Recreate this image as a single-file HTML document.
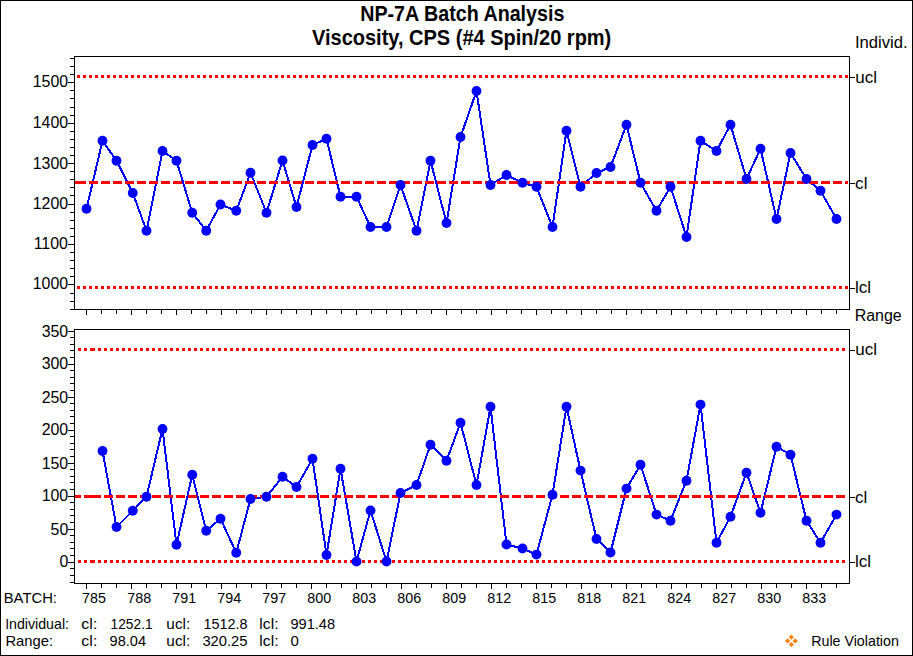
<!DOCTYPE html><html><head><meta charset="utf-8"><style>html,body{margin:0;padding:0;background:#fff;overflow:hidden;}svg{display:block;}text{font-family:"Liberation Sans",sans-serif;fill:#000;white-space:pre;}</style></head><body>
<svg width="913" height="656" viewBox="0 0 913 656">
<rect x="0" y="0" width="913" height="656" fill="#fff"/>
<g shape-rendering="crispEdges" fill="#000">
<rect x="0" y="0" width="913" height="1"/><rect x="0" y="655" width="913" height="1"/><rect x="0" y="0" width="1" height="656"/><rect x="912" y="0" width="1" height="656"/>
<rect x="74" y="56" width="776" height="1"/><rect x="74" y="309" width="776" height="1"/><rect x="74" y="56" width="1" height="254"/><rect x="849" y="56" width="1" height="254"/>
<rect x="74" y="329" width="776" height="1"/><rect x="74" y="583" width="776" height="1"/><rect x="74" y="329" width="1" height="255"/><rect x="849" y="329" width="1" height="255"/>
<rect x="70" y="58" width="4" height="1"/>
<rect x="70" y="66" width="4" height="1"/>
<rect x="70" y="74" width="4" height="1"/>
<rect x="68" y="82" width="6" height="1"/>
<rect x="70" y="90" width="4" height="1"/>
<rect x="70" y="98" width="4" height="1"/>
<rect x="70" y="107" width="4" height="1"/>
<rect x="70" y="115" width="4" height="1"/>
<rect x="68" y="123" width="6" height="1"/>
<rect x="70" y="131" width="4" height="1"/>
<rect x="70" y="139" width="4" height="1"/>
<rect x="70" y="147" width="4" height="1"/>
<rect x="70" y="155" width="4" height="1"/>
<rect x="68" y="163" width="6" height="1"/>
<rect x="70" y="171" width="4" height="1"/>
<rect x="70" y="179" width="4" height="1"/>
<rect x="70" y="187" width="4" height="1"/>
<rect x="70" y="195" width="4" height="1"/>
<rect x="68" y="204" width="6" height="1"/>
<rect x="70" y="212" width="4" height="1"/>
<rect x="70" y="220" width="4" height="1"/>
<rect x="70" y="228" width="4" height="1"/>
<rect x="70" y="236" width="4" height="1"/>
<rect x="68" y="244" width="6" height="1"/>
<rect x="70" y="252" width="4" height="1"/>
<rect x="70" y="260" width="4" height="1"/>
<rect x="70" y="268" width="4" height="1"/>
<rect x="70" y="276" width="4" height="1"/>
<rect x="68" y="284" width="6" height="1"/>
<rect x="70" y="293" width="4" height="1"/>
<rect x="70" y="301" width="4" height="1"/>
<rect x="70" y="309" width="4" height="1"/>
<rect x="68" y="331" width="6" height="1"/>
<rect x="70" y="337" width="4" height="1"/>
<rect x="70" y="344" width="4" height="1"/>
<rect x="70" y="350" width="4" height="1"/>
<rect x="70" y="357" width="4" height="1"/>
<rect x="68" y="364" width="6" height="1"/>
<rect x="70" y="370" width="4" height="1"/>
<rect x="70" y="377" width="4" height="1"/>
<rect x="70" y="383" width="4" height="1"/>
<rect x="70" y="390" width="4" height="1"/>
<rect x="68" y="397" width="6" height="1"/>
<rect x="70" y="403" width="4" height="1"/>
<rect x="70" y="410" width="4" height="1"/>
<rect x="70" y="416" width="4" height="1"/>
<rect x="70" y="423" width="4" height="1"/>
<rect x="68" y="430" width="6" height="1"/>
<rect x="70" y="436" width="4" height="1"/>
<rect x="70" y="443" width="4" height="1"/>
<rect x="70" y="449" width="4" height="1"/>
<rect x="70" y="456" width="4" height="1"/>
<rect x="68" y="463" width="6" height="1"/>
<rect x="70" y="469" width="4" height="1"/>
<rect x="70" y="476" width="4" height="1"/>
<rect x="70" y="482" width="4" height="1"/>
<rect x="70" y="489" width="4" height="1"/>
<rect x="68" y="496" width="6" height="1"/>
<rect x="70" y="502" width="4" height="1"/>
<rect x="70" y="509" width="4" height="1"/>
<rect x="70" y="515" width="4" height="1"/>
<rect x="70" y="522" width="4" height="1"/>
<rect x="68" y="529" width="6" height="1"/>
<rect x="70" y="535" width="4" height="1"/>
<rect x="70" y="542" width="4" height="1"/>
<rect x="70" y="548" width="4" height="1"/>
<rect x="70" y="555" width="4" height="1"/>
<rect x="68" y="562" width="6" height="1"/>
<rect x="70" y="568" width="4" height="1"/>
<rect x="70" y="575" width="4" height="1"/>
<rect x="70" y="582" width="4" height="1"/>
<rect x="86" y="310" width="1" height="5"/>
<rect x="86" y="584" width="1" height="5"/>
<rect x="101" y="310" width="1" height="4"/>
<rect x="101" y="584" width="1" height="4"/>
<rect x="116" y="310" width="1" height="4"/>
<rect x="116" y="584" width="1" height="4"/>
<rect x="131" y="310" width="1" height="5"/>
<rect x="131" y="584" width="1" height="5"/>
<rect x="146" y="310" width="1" height="4"/>
<rect x="146" y="584" width="1" height="4"/>
<rect x="161" y="310" width="1" height="4"/>
<rect x="161" y="584" width="1" height="4"/>
<rect x="176" y="310" width="1" height="5"/>
<rect x="176" y="584" width="1" height="5"/>
<rect x="191" y="310" width="1" height="4"/>
<rect x="191" y="584" width="1" height="4"/>
<rect x="206" y="310" width="1" height="4"/>
<rect x="206" y="584" width="1" height="4"/>
<rect x="221" y="310" width="1" height="5"/>
<rect x="221" y="584" width="1" height="5"/>
<rect x="236" y="310" width="1" height="4"/>
<rect x="236" y="584" width="1" height="4"/>
<rect x="251" y="310" width="1" height="4"/>
<rect x="251" y="584" width="1" height="4"/>
<rect x="266" y="310" width="1" height="5"/>
<rect x="266" y="584" width="1" height="5"/>
<rect x="281" y="310" width="1" height="4"/>
<rect x="281" y="584" width="1" height="4"/>
<rect x="296" y="310" width="1" height="4"/>
<rect x="296" y="584" width="1" height="4"/>
<rect x="311" y="310" width="1" height="5"/>
<rect x="311" y="584" width="1" height="5"/>
<rect x="326" y="310" width="1" height="4"/>
<rect x="326" y="584" width="1" height="4"/>
<rect x="341" y="310" width="1" height="4"/>
<rect x="341" y="584" width="1" height="4"/>
<rect x="356" y="310" width="1" height="5"/>
<rect x="356" y="584" width="1" height="5"/>
<rect x="371" y="310" width="1" height="4"/>
<rect x="371" y="584" width="1" height="4"/>
<rect x="386" y="310" width="1" height="4"/>
<rect x="386" y="584" width="1" height="4"/>
<rect x="401" y="310" width="1" height="5"/>
<rect x="401" y="584" width="1" height="5"/>
<rect x="416" y="310" width="1" height="4"/>
<rect x="416" y="584" width="1" height="4"/>
<rect x="431" y="310" width="1" height="4"/>
<rect x="431" y="584" width="1" height="4"/>
<rect x="446" y="310" width="1" height="5"/>
<rect x="446" y="584" width="1" height="5"/>
<rect x="461" y="310" width="1" height="4"/>
<rect x="461" y="584" width="1" height="4"/>
<rect x="476" y="310" width="1" height="4"/>
<rect x="476" y="584" width="1" height="4"/>
<rect x="491" y="310" width="1" height="5"/>
<rect x="491" y="584" width="1" height="5"/>
<rect x="506" y="310" width="1" height="4"/>
<rect x="506" y="584" width="1" height="4"/>
<rect x="521" y="310" width="1" height="4"/>
<rect x="521" y="584" width="1" height="4"/>
<rect x="536" y="310" width="1" height="5"/>
<rect x="536" y="584" width="1" height="5"/>
<rect x="551" y="310" width="1" height="4"/>
<rect x="551" y="584" width="1" height="4"/>
<rect x="566" y="310" width="1" height="4"/>
<rect x="566" y="584" width="1" height="4"/>
<rect x="581" y="310" width="1" height="5"/>
<rect x="581" y="584" width="1" height="5"/>
<rect x="596" y="310" width="1" height="4"/>
<rect x="596" y="584" width="1" height="4"/>
<rect x="611" y="310" width="1" height="4"/>
<rect x="611" y="584" width="1" height="4"/>
<rect x="626" y="310" width="1" height="5"/>
<rect x="626" y="584" width="1" height="5"/>
<rect x="641" y="310" width="1" height="4"/>
<rect x="641" y="584" width="1" height="4"/>
<rect x="656" y="310" width="1" height="4"/>
<rect x="656" y="584" width="1" height="4"/>
<rect x="671" y="310" width="1" height="5"/>
<rect x="671" y="584" width="1" height="5"/>
<rect x="686" y="310" width="1" height="4"/>
<rect x="686" y="584" width="1" height="4"/>
<rect x="701" y="310" width="1" height="4"/>
<rect x="701" y="584" width="1" height="4"/>
<rect x="716" y="310" width="1" height="5"/>
<rect x="716" y="584" width="1" height="5"/>
<rect x="731" y="310" width="1" height="4"/>
<rect x="731" y="584" width="1" height="4"/>
<rect x="746" y="310" width="1" height="4"/>
<rect x="746" y="584" width="1" height="4"/>
<rect x="761" y="310" width="1" height="5"/>
<rect x="761" y="584" width="1" height="5"/>
<rect x="776" y="310" width="1" height="4"/>
<rect x="776" y="584" width="1" height="4"/>
<rect x="791" y="310" width="1" height="4"/>
<rect x="791" y="584" width="1" height="4"/>
<rect x="806" y="310" width="1" height="5"/>
<rect x="806" y="584" width="1" height="5"/>
<rect x="821" y="310" width="1" height="4"/>
<rect x="821" y="584" width="1" height="4"/>
<rect x="836" y="310" width="1" height="4"/>
<rect x="836" y="584" width="1" height="4"/>
<rect x="850" y="77" width="5" height="1"/>
<rect x="850" y="183" width="5" height="1"/>
<rect x="850" y="288" width="5" height="1"/>
<rect x="850" y="350" width="5" height="1"/>
<rect x="850" y="497" width="5" height="1"/>
<rect x="850" y="562" width="5" height="1"/>
</g>
<polyline points="86.5,208.75 102.5,140.75 116.5,160.75 132.75,193 146.5,230.75 162.5,151 176.5,160.75 192.25,212.75 206.25,230.75 220.5,204.5 236.25,210.75 250.5,172.75 266.5,212.75 282.5,160.5 296.5,207 312.5,145 326.5,138.75 340.5,196.75 356.5,196.75 370.5,227 386.5,227 400.5,185 416.5,230.75 430.5,160.75 446.5,223 460.5,137 476.5,91 490.5,185 506.5,175 522.5,182.75 536.5,186.75 552.5,227 566.5,130.75 580.5,186.75 596.5,173 610.5,167 626.5,124.75 640.5,182.75 656.5,210.75 670.5,186.75 686.5,237 700.5,140.75 716.5,151 730.5,124.75 746.5,179 760.5,148.75 776.5,219 790.5,153 806.5,179 820.5,190.75 836.5,219" fill="none" stroke="#0000ff" stroke-width="2" stroke-linejoin="miter" shape-rendering="crispEdges"/>
<polyline points="102.5,451 116.5,527 132.75,510.75 146.5,496.75 162.5,429 176.5,544.75 192.25,474.75 206.25,530.75 220.5,518.75 236.25,552.75 250.5,499 266.5,496.75 282.5,476.75 296.5,487 312.5,458.75 326.5,555 340.5,468.75 356.5,561.5 370.5,510.5 386.5,561.5 400.5,493 416.5,485 430.5,444.75 446.5,460.75 460.5,422.75 476.5,485 490.5,406.75 506.5,544.5 522.5,548.5 536.5,554.6 552.5,494.7 566.5,406.7 580.5,470.6 596.5,539 610.5,552.5 626.5,488.6 640.5,464.8 656.5,514.6 670.5,520.7 686.5,480.7 700.5,404.6 716.5,542.7 730.5,516.7 746.5,472.7 760.5,512.7 776.5,446.7 790.5,454.7 806.5,520.7 820.5,542.7 836.5,514.6" fill="none" stroke="#0000ff" stroke-width="2" stroke-linejoin="miter" shape-rendering="crispEdges"/>
<g shape-rendering="crispEdges" fill="#f00">
<rect x="77" y="75" width="3" height="3"/>
<rect x="83" y="75" width="3" height="3"/>
<rect x="89" y="75" width="3" height="3"/>
<rect x="95" y="75" width="3" height="3"/>
<rect x="101" y="75" width="3" height="3"/>
<rect x="107" y="75" width="3" height="3"/>
<rect x="113" y="75" width="3" height="3"/>
<rect x="119" y="75" width="3" height="3"/>
<rect x="125" y="75" width="3" height="3"/>
<rect x="131" y="75" width="3" height="3"/>
<rect x="137" y="75" width="3" height="3"/>
<rect x="143" y="75" width="3" height="3"/>
<rect x="149" y="75" width="3" height="3"/>
<rect x="155" y="75" width="3" height="3"/>
<rect x="161" y="75" width="3" height="3"/>
<rect x="167" y="75" width="3" height="3"/>
<rect x="173" y="75" width="3" height="3"/>
<rect x="179" y="75" width="3" height="3"/>
<rect x="185" y="75" width="3" height="3"/>
<rect x="191" y="75" width="3" height="3"/>
<rect x="197" y="75" width="3" height="3"/>
<rect x="203" y="75" width="3" height="3"/>
<rect x="209" y="75" width="3" height="3"/>
<rect x="215" y="75" width="3" height="3"/>
<rect x="221" y="75" width="3" height="3"/>
<rect x="227" y="75" width="3" height="3"/>
<rect x="233" y="75" width="3" height="3"/>
<rect x="239" y="75" width="3" height="3"/>
<rect x="245" y="75" width="3" height="3"/>
<rect x="251" y="75" width="3" height="3"/>
<rect x="257" y="75" width="3" height="3"/>
<rect x="263" y="75" width="3" height="3"/>
<rect x="269" y="75" width="3" height="3"/>
<rect x="275" y="75" width="3" height="3"/>
<rect x="281" y="75" width="3" height="3"/>
<rect x="287" y="75" width="3" height="3"/>
<rect x="293" y="75" width="3" height="3"/>
<rect x="299" y="75" width="3" height="3"/>
<rect x="305" y="75" width="3" height="3"/>
<rect x="311" y="75" width="3" height="3"/>
<rect x="317" y="75" width="3" height="3"/>
<rect x="323" y="75" width="3" height="3"/>
<rect x="329" y="75" width="3" height="3"/>
<rect x="335" y="75" width="3" height="3"/>
<rect x="341" y="75" width="3" height="3"/>
<rect x="347" y="75" width="3" height="3"/>
<rect x="353" y="75" width="3" height="3"/>
<rect x="359" y="75" width="3" height="3"/>
<rect x="365" y="75" width="3" height="3"/>
<rect x="371" y="75" width="3" height="3"/>
<rect x="377" y="75" width="3" height="3"/>
<rect x="383" y="75" width="3" height="3"/>
<rect x="389" y="75" width="3" height="3"/>
<rect x="395" y="75" width="3" height="3"/>
<rect x="401" y="75" width="3" height="3"/>
<rect x="407" y="75" width="3" height="3"/>
<rect x="413" y="75" width="3" height="3"/>
<rect x="419" y="75" width="3" height="3"/>
<rect x="425" y="75" width="3" height="3"/>
<rect x="431" y="75" width="3" height="3"/>
<rect x="437" y="75" width="3" height="3"/>
<rect x="443" y="75" width="3" height="3"/>
<rect x="449" y="75" width="3" height="3"/>
<rect x="455" y="75" width="3" height="3"/>
<rect x="461" y="75" width="3" height="3"/>
<rect x="467" y="75" width="3" height="3"/>
<rect x="473" y="75" width="3" height="3"/>
<rect x="479" y="75" width="3" height="3"/>
<rect x="485" y="75" width="3" height="3"/>
<rect x="491" y="75" width="3" height="3"/>
<rect x="497" y="75" width="3" height="3"/>
<rect x="503" y="75" width="3" height="3"/>
<rect x="509" y="75" width="3" height="3"/>
<rect x="515" y="75" width="3" height="3"/>
<rect x="521" y="75" width="3" height="3"/>
<rect x="527" y="75" width="3" height="3"/>
<rect x="533" y="75" width="3" height="3"/>
<rect x="539" y="75" width="3" height="3"/>
<rect x="545" y="75" width="3" height="3"/>
<rect x="551" y="75" width="3" height="3"/>
<rect x="557" y="75" width="3" height="3"/>
<rect x="563" y="75" width="3" height="3"/>
<rect x="569" y="75" width="3" height="3"/>
<rect x="575" y="75" width="3" height="3"/>
<rect x="581" y="75" width="3" height="3"/>
<rect x="587" y="75" width="3" height="3"/>
<rect x="593" y="75" width="3" height="3"/>
<rect x="599" y="75" width="3" height="3"/>
<rect x="605" y="75" width="3" height="3"/>
<rect x="611" y="75" width="3" height="3"/>
<rect x="617" y="75" width="3" height="3"/>
<rect x="623" y="75" width="3" height="3"/>
<rect x="629" y="75" width="3" height="3"/>
<rect x="635" y="75" width="3" height="3"/>
<rect x="641" y="75" width="3" height="3"/>
<rect x="647" y="75" width="3" height="3"/>
<rect x="653" y="75" width="3" height="3"/>
<rect x="659" y="75" width="3" height="3"/>
<rect x="665" y="75" width="3" height="3"/>
<rect x="671" y="75" width="3" height="3"/>
<rect x="677" y="75" width="3" height="3"/>
<rect x="683" y="75" width="3" height="3"/>
<rect x="689" y="75" width="3" height="3"/>
<rect x="695" y="75" width="3" height="3"/>
<rect x="701" y="75" width="3" height="3"/>
<rect x="707" y="75" width="3" height="3"/>
<rect x="713" y="75" width="3" height="3"/>
<rect x="719" y="75" width="3" height="3"/>
<rect x="725" y="75" width="3" height="3"/>
<rect x="731" y="75" width="3" height="3"/>
<rect x="737" y="75" width="3" height="3"/>
<rect x="743" y="75" width="3" height="3"/>
<rect x="749" y="75" width="3" height="3"/>
<rect x="755" y="75" width="3" height="3"/>
<rect x="761" y="75" width="3" height="3"/>
<rect x="767" y="75" width="3" height="3"/>
<rect x="773" y="75" width="3" height="3"/>
<rect x="779" y="75" width="3" height="3"/>
<rect x="785" y="75" width="3" height="3"/>
<rect x="791" y="75" width="3" height="3"/>
<rect x="797" y="75" width="3" height="3"/>
<rect x="803" y="75" width="3" height="3"/>
<rect x="809" y="75" width="3" height="3"/>
<rect x="815" y="75" width="3" height="3"/>
<rect x="821" y="75" width="3" height="3"/>
<rect x="827" y="75" width="3" height="3"/>
<rect x="833" y="75" width="3" height="3"/>
<rect x="839" y="75" width="3" height="3"/>
<rect x="845" y="75" width="3" height="3"/>
<rect x="77" y="286" width="3" height="3"/>
<rect x="83" y="286" width="3" height="3"/>
<rect x="89" y="286" width="3" height="3"/>
<rect x="95" y="286" width="3" height="3"/>
<rect x="101" y="286" width="3" height="3"/>
<rect x="107" y="286" width="3" height="3"/>
<rect x="113" y="286" width="3" height="3"/>
<rect x="119" y="286" width="3" height="3"/>
<rect x="125" y="286" width="3" height="3"/>
<rect x="131" y="286" width="3" height="3"/>
<rect x="137" y="286" width="3" height="3"/>
<rect x="143" y="286" width="3" height="3"/>
<rect x="149" y="286" width="3" height="3"/>
<rect x="155" y="286" width="3" height="3"/>
<rect x="161" y="286" width="3" height="3"/>
<rect x="167" y="286" width="3" height="3"/>
<rect x="173" y="286" width="3" height="3"/>
<rect x="179" y="286" width="3" height="3"/>
<rect x="185" y="286" width="3" height="3"/>
<rect x="191" y="286" width="3" height="3"/>
<rect x="197" y="286" width="3" height="3"/>
<rect x="203" y="286" width="3" height="3"/>
<rect x="209" y="286" width="3" height="3"/>
<rect x="215" y="286" width="3" height="3"/>
<rect x="221" y="286" width="3" height="3"/>
<rect x="227" y="286" width="3" height="3"/>
<rect x="233" y="286" width="3" height="3"/>
<rect x="239" y="286" width="3" height="3"/>
<rect x="245" y="286" width="3" height="3"/>
<rect x="251" y="286" width="3" height="3"/>
<rect x="257" y="286" width="3" height="3"/>
<rect x="263" y="286" width="3" height="3"/>
<rect x="269" y="286" width="3" height="3"/>
<rect x="275" y="286" width="3" height="3"/>
<rect x="281" y="286" width="3" height="3"/>
<rect x="287" y="286" width="3" height="3"/>
<rect x="293" y="286" width="3" height="3"/>
<rect x="299" y="286" width="3" height="3"/>
<rect x="305" y="286" width="3" height="3"/>
<rect x="311" y="286" width="3" height="3"/>
<rect x="317" y="286" width="3" height="3"/>
<rect x="323" y="286" width="3" height="3"/>
<rect x="329" y="286" width="3" height="3"/>
<rect x="335" y="286" width="3" height="3"/>
<rect x="341" y="286" width="3" height="3"/>
<rect x="347" y="286" width="3" height="3"/>
<rect x="353" y="286" width="3" height="3"/>
<rect x="359" y="286" width="3" height="3"/>
<rect x="365" y="286" width="3" height="3"/>
<rect x="371" y="286" width="3" height="3"/>
<rect x="377" y="286" width="3" height="3"/>
<rect x="383" y="286" width="3" height="3"/>
<rect x="389" y="286" width="3" height="3"/>
<rect x="395" y="286" width="3" height="3"/>
<rect x="401" y="286" width="3" height="3"/>
<rect x="407" y="286" width="3" height="3"/>
<rect x="413" y="286" width="3" height="3"/>
<rect x="419" y="286" width="3" height="3"/>
<rect x="425" y="286" width="3" height="3"/>
<rect x="431" y="286" width="3" height="3"/>
<rect x="437" y="286" width="3" height="3"/>
<rect x="443" y="286" width="3" height="3"/>
<rect x="449" y="286" width="3" height="3"/>
<rect x="455" y="286" width="3" height="3"/>
<rect x="461" y="286" width="3" height="3"/>
<rect x="467" y="286" width="3" height="3"/>
<rect x="473" y="286" width="3" height="3"/>
<rect x="479" y="286" width="3" height="3"/>
<rect x="485" y="286" width="3" height="3"/>
<rect x="491" y="286" width="3" height="3"/>
<rect x="497" y="286" width="3" height="3"/>
<rect x="503" y="286" width="3" height="3"/>
<rect x="509" y="286" width="3" height="3"/>
<rect x="515" y="286" width="3" height="3"/>
<rect x="521" y="286" width="3" height="3"/>
<rect x="527" y="286" width="3" height="3"/>
<rect x="533" y="286" width="3" height="3"/>
<rect x="539" y="286" width="3" height="3"/>
<rect x="545" y="286" width="3" height="3"/>
<rect x="551" y="286" width="3" height="3"/>
<rect x="557" y="286" width="3" height="3"/>
<rect x="563" y="286" width="3" height="3"/>
<rect x="569" y="286" width="3" height="3"/>
<rect x="575" y="286" width="3" height="3"/>
<rect x="581" y="286" width="3" height="3"/>
<rect x="587" y="286" width="3" height="3"/>
<rect x="593" y="286" width="3" height="3"/>
<rect x="599" y="286" width="3" height="3"/>
<rect x="605" y="286" width="3" height="3"/>
<rect x="611" y="286" width="3" height="3"/>
<rect x="617" y="286" width="3" height="3"/>
<rect x="623" y="286" width="3" height="3"/>
<rect x="629" y="286" width="3" height="3"/>
<rect x="635" y="286" width="3" height="3"/>
<rect x="641" y="286" width="3" height="3"/>
<rect x="647" y="286" width="3" height="3"/>
<rect x="653" y="286" width="3" height="3"/>
<rect x="659" y="286" width="3" height="3"/>
<rect x="665" y="286" width="3" height="3"/>
<rect x="671" y="286" width="3" height="3"/>
<rect x="677" y="286" width="3" height="3"/>
<rect x="683" y="286" width="3" height="3"/>
<rect x="689" y="286" width="3" height="3"/>
<rect x="695" y="286" width="3" height="3"/>
<rect x="701" y="286" width="3" height="3"/>
<rect x="707" y="286" width="3" height="3"/>
<rect x="713" y="286" width="3" height="3"/>
<rect x="719" y="286" width="3" height="3"/>
<rect x="725" y="286" width="3" height="3"/>
<rect x="731" y="286" width="3" height="3"/>
<rect x="737" y="286" width="3" height="3"/>
<rect x="743" y="286" width="3" height="3"/>
<rect x="749" y="286" width="3" height="3"/>
<rect x="755" y="286" width="3" height="3"/>
<rect x="761" y="286" width="3" height="3"/>
<rect x="767" y="286" width="3" height="3"/>
<rect x="773" y="286" width="3" height="3"/>
<rect x="779" y="286" width="3" height="3"/>
<rect x="785" y="286" width="3" height="3"/>
<rect x="791" y="286" width="3" height="3"/>
<rect x="797" y="286" width="3" height="3"/>
<rect x="803" y="286" width="3" height="3"/>
<rect x="809" y="286" width="3" height="3"/>
<rect x="815" y="286" width="3" height="3"/>
<rect x="821" y="286" width="3" height="3"/>
<rect x="827" y="286" width="3" height="3"/>
<rect x="833" y="286" width="3" height="3"/>
<rect x="839" y="286" width="3" height="3"/>
<rect x="845" y="286" width="3" height="3"/>
<rect x="75" y="181" width="11" height="3"/>
<rect x="89" y="181" width="9" height="3"/>
<rect x="101" y="181" width="9" height="3"/>
<rect x="113" y="181" width="9" height="3"/>
<rect x="125" y="181" width="9" height="3"/>
<rect x="137" y="181" width="9" height="3"/>
<rect x="149" y="181" width="9" height="3"/>
<rect x="161" y="181" width="9" height="3"/>
<rect x="173" y="181" width="9" height="3"/>
<rect x="185" y="181" width="9" height="3"/>
<rect x="197" y="181" width="9" height="3"/>
<rect x="209" y="181" width="9" height="3"/>
<rect x="221" y="181" width="9" height="3"/>
<rect x="233" y="181" width="9" height="3"/>
<rect x="245" y="181" width="9" height="3"/>
<rect x="257" y="181" width="9" height="3"/>
<rect x="269" y="181" width="9" height="3"/>
<rect x="281" y="181" width="9" height="3"/>
<rect x="293" y="181" width="9" height="3"/>
<rect x="305" y="181" width="9" height="3"/>
<rect x="317" y="181" width="9" height="3"/>
<rect x="329" y="181" width="9" height="3"/>
<rect x="341" y="181" width="9" height="3"/>
<rect x="353" y="181" width="9" height="3"/>
<rect x="365" y="181" width="9" height="3"/>
<rect x="377" y="181" width="9" height="3"/>
<rect x="389" y="181" width="9" height="3"/>
<rect x="401" y="181" width="9" height="3"/>
<rect x="413" y="181" width="9" height="3"/>
<rect x="425" y="181" width="9" height="3"/>
<rect x="437" y="181" width="9" height="3"/>
<rect x="449" y="181" width="9" height="3"/>
<rect x="461" y="181" width="9" height="3"/>
<rect x="473" y="181" width="9" height="3"/>
<rect x="485" y="181" width="9" height="3"/>
<rect x="497" y="181" width="9" height="3"/>
<rect x="509" y="181" width="9" height="3"/>
<rect x="521" y="181" width="9" height="3"/>
<rect x="533" y="181" width="9" height="3"/>
<rect x="545" y="181" width="9" height="3"/>
<rect x="557" y="181" width="9" height="3"/>
<rect x="569" y="181" width="9" height="3"/>
<rect x="581" y="181" width="9" height="3"/>
<rect x="593" y="181" width="9" height="3"/>
<rect x="605" y="181" width="9" height="3"/>
<rect x="617" y="181" width="9" height="3"/>
<rect x="629" y="181" width="9" height="3"/>
<rect x="641" y="181" width="9" height="3"/>
<rect x="653" y="181" width="9" height="3"/>
<rect x="665" y="181" width="9" height="3"/>
<rect x="677" y="181" width="9" height="3"/>
<rect x="689" y="181" width="9" height="3"/>
<rect x="701" y="181" width="9" height="3"/>
<rect x="713" y="181" width="9" height="3"/>
<rect x="725" y="181" width="9" height="3"/>
<rect x="737" y="181" width="9" height="3"/>
<rect x="749" y="181" width="9" height="3"/>
<rect x="761" y="181" width="9" height="3"/>
<rect x="773" y="181" width="9" height="3"/>
<rect x="785" y="181" width="9" height="3"/>
<rect x="797" y="181" width="9" height="3"/>
<rect x="809" y="181" width="9" height="3"/>
<rect x="821" y="181" width="9" height="3"/>
<rect x="833" y="181" width="9" height="3"/>
<rect x="845" y="181" width="3" height="3"/>
<rect x="78" y="348" width="3" height="3"/>
<rect x="84" y="348" width="3" height="3"/>
<rect x="90" y="348" width="5" height="3"/>
<rect x="98" y="348" width="3" height="3"/>
<rect x="104" y="348" width="3" height="3"/>
<rect x="110" y="348" width="3" height="3"/>
<rect x="116" y="348" width="3" height="3"/>
<rect x="122" y="348" width="3" height="3"/>
<rect x="128" y="348" width="3" height="3"/>
<rect x="134" y="348" width="3" height="3"/>
<rect x="140" y="348" width="3" height="3"/>
<rect x="146" y="348" width="3" height="3"/>
<rect x="152" y="348" width="3" height="3"/>
<rect x="158" y="348" width="3" height="3"/>
<rect x="164" y="348" width="3" height="3"/>
<rect x="170" y="348" width="3" height="3"/>
<rect x="176" y="348" width="3" height="3"/>
<rect x="182" y="348" width="3" height="3"/>
<rect x="188" y="348" width="3" height="3"/>
<rect x="194" y="348" width="3" height="3"/>
<rect x="200" y="348" width="3" height="3"/>
<rect x="206" y="348" width="3" height="3"/>
<rect x="212" y="348" width="3" height="3"/>
<rect x="218" y="348" width="3" height="3"/>
<rect x="224" y="348" width="3" height="3"/>
<rect x="230" y="348" width="3" height="3"/>
<rect x="236" y="348" width="3" height="3"/>
<rect x="242" y="348" width="3" height="3"/>
<rect x="248" y="348" width="3" height="3"/>
<rect x="254" y="348" width="3" height="3"/>
<rect x="260" y="348" width="3" height="3"/>
<rect x="266" y="348" width="3" height="3"/>
<rect x="272" y="348" width="3" height="3"/>
<rect x="278" y="348" width="3" height="3"/>
<rect x="284" y="348" width="3" height="3"/>
<rect x="290" y="348" width="3" height="3"/>
<rect x="296" y="348" width="3" height="3"/>
<rect x="302" y="348" width="3" height="3"/>
<rect x="308" y="348" width="3" height="3"/>
<rect x="314" y="348" width="3" height="3"/>
<rect x="320" y="348" width="3" height="3"/>
<rect x="326" y="348" width="3" height="3"/>
<rect x="332" y="348" width="3" height="3"/>
<rect x="338" y="348" width="3" height="3"/>
<rect x="344" y="348" width="3" height="3"/>
<rect x="350" y="348" width="3" height="3"/>
<rect x="356" y="348" width="3" height="3"/>
<rect x="362" y="348" width="3" height="3"/>
<rect x="368" y="348" width="3" height="3"/>
<rect x="374" y="348" width="3" height="3"/>
<rect x="380" y="348" width="3" height="3"/>
<rect x="386" y="348" width="3" height="3"/>
<rect x="392" y="348" width="3" height="3"/>
<rect x="398" y="348" width="3" height="3"/>
<rect x="404" y="348" width="3" height="3"/>
<rect x="410" y="348" width="3" height="3"/>
<rect x="416" y="348" width="3" height="3"/>
<rect x="422" y="348" width="3" height="3"/>
<rect x="428" y="348" width="3" height="3"/>
<rect x="434" y="348" width="3" height="3"/>
<rect x="440" y="348" width="3" height="3"/>
<rect x="446" y="348" width="3" height="3"/>
<rect x="452" y="348" width="3" height="3"/>
<rect x="458" y="348" width="3" height="3"/>
<rect x="464" y="348" width="3" height="3"/>
<rect x="470" y="348" width="3" height="3"/>
<rect x="476" y="348" width="3" height="3"/>
<rect x="482" y="348" width="3" height="3"/>
<rect x="488" y="348" width="3" height="3"/>
<rect x="494" y="348" width="3" height="3"/>
<rect x="500" y="348" width="3" height="3"/>
<rect x="506" y="348" width="3" height="3"/>
<rect x="512" y="348" width="3" height="3"/>
<rect x="518" y="348" width="3" height="3"/>
<rect x="524" y="348" width="3" height="3"/>
<rect x="530" y="348" width="3" height="3"/>
<rect x="536" y="348" width="3" height="3"/>
<rect x="542" y="348" width="3" height="3"/>
<rect x="548" y="348" width="3" height="3"/>
<rect x="554" y="348" width="3" height="3"/>
<rect x="560" y="348" width="3" height="3"/>
<rect x="566" y="348" width="3" height="3"/>
<rect x="572" y="348" width="3" height="3"/>
<rect x="578" y="348" width="3" height="3"/>
<rect x="584" y="348" width="3" height="3"/>
<rect x="590" y="348" width="3" height="3"/>
<rect x="596" y="348" width="3" height="3"/>
<rect x="602" y="348" width="3" height="3"/>
<rect x="608" y="348" width="3" height="3"/>
<rect x="614" y="348" width="3" height="3"/>
<rect x="620" y="348" width="3" height="3"/>
<rect x="626" y="348" width="3" height="3"/>
<rect x="632" y="348" width="3" height="3"/>
<rect x="638" y="348" width="3" height="3"/>
<rect x="644" y="348" width="3" height="3"/>
<rect x="650" y="348" width="3" height="3"/>
<rect x="656" y="348" width="3" height="3"/>
<rect x="662" y="348" width="3" height="3"/>
<rect x="668" y="348" width="3" height="3"/>
<rect x="674" y="348" width="3" height="3"/>
<rect x="680" y="348" width="3" height="3"/>
<rect x="686" y="348" width="3" height="3"/>
<rect x="692" y="348" width="3" height="3"/>
<rect x="698" y="348" width="3" height="3"/>
<rect x="704" y="348" width="3" height="3"/>
<rect x="710" y="348" width="3" height="3"/>
<rect x="716" y="348" width="3" height="3"/>
<rect x="722" y="348" width="3" height="3"/>
<rect x="728" y="348" width="3" height="3"/>
<rect x="734" y="348" width="3" height="3"/>
<rect x="740" y="348" width="3" height="3"/>
<rect x="746" y="348" width="3" height="3"/>
<rect x="752" y="348" width="3" height="3"/>
<rect x="758" y="348" width="3" height="3"/>
<rect x="764" y="348" width="3" height="3"/>
<rect x="770" y="348" width="3" height="3"/>
<rect x="776" y="348" width="3" height="3"/>
<rect x="782" y="348" width="3" height="3"/>
<rect x="788" y="348" width="3" height="3"/>
<rect x="794" y="348" width="3" height="3"/>
<rect x="800" y="348" width="3" height="3"/>
<rect x="806" y="348" width="3" height="3"/>
<rect x="812" y="348" width="3" height="3"/>
<rect x="818" y="348" width="3" height="3"/>
<rect x="824" y="348" width="3" height="3"/>
<rect x="830" y="348" width="3" height="3"/>
<rect x="836" y="348" width="3" height="3"/>
<rect x="842" y="348" width="3" height="3"/>
<rect x="78" y="560" width="3" height="3"/>
<rect x="84" y="560" width="3" height="3"/>
<rect x="90" y="560" width="5" height="3"/>
<rect x="98" y="560" width="3" height="3"/>
<rect x="104" y="560" width="3" height="3"/>
<rect x="110" y="560" width="3" height="3"/>
<rect x="116" y="560" width="3" height="3"/>
<rect x="122" y="560" width="3" height="3"/>
<rect x="128" y="560" width="3" height="3"/>
<rect x="134" y="560" width="3" height="3"/>
<rect x="140" y="560" width="3" height="3"/>
<rect x="146" y="560" width="3" height="3"/>
<rect x="152" y="560" width="3" height="3"/>
<rect x="158" y="560" width="3" height="3"/>
<rect x="164" y="560" width="3" height="3"/>
<rect x="170" y="560" width="3" height="3"/>
<rect x="176" y="560" width="3" height="3"/>
<rect x="182" y="560" width="3" height="3"/>
<rect x="188" y="560" width="3" height="3"/>
<rect x="194" y="560" width="3" height="3"/>
<rect x="200" y="560" width="3" height="3"/>
<rect x="206" y="560" width="3" height="3"/>
<rect x="212" y="560" width="3" height="3"/>
<rect x="218" y="560" width="3" height="3"/>
<rect x="224" y="560" width="3" height="3"/>
<rect x="230" y="560" width="3" height="3"/>
<rect x="236" y="560" width="3" height="3"/>
<rect x="242" y="560" width="3" height="3"/>
<rect x="248" y="560" width="3" height="3"/>
<rect x="254" y="560" width="3" height="3"/>
<rect x="260" y="560" width="3" height="3"/>
<rect x="266" y="560" width="3" height="3"/>
<rect x="272" y="560" width="3" height="3"/>
<rect x="278" y="560" width="3" height="3"/>
<rect x="284" y="560" width="3" height="3"/>
<rect x="290" y="560" width="3" height="3"/>
<rect x="296" y="560" width="3" height="3"/>
<rect x="302" y="560" width="3" height="3"/>
<rect x="308" y="560" width="3" height="3"/>
<rect x="314" y="560" width="3" height="3"/>
<rect x="320" y="560" width="3" height="3"/>
<rect x="326" y="560" width="3" height="3"/>
<rect x="332" y="560" width="3" height="3"/>
<rect x="338" y="560" width="3" height="3"/>
<rect x="344" y="560" width="3" height="3"/>
<rect x="350" y="560" width="3" height="3"/>
<rect x="356" y="560" width="3" height="3"/>
<rect x="362" y="560" width="3" height="3"/>
<rect x="368" y="560" width="3" height="3"/>
<rect x="374" y="560" width="3" height="3"/>
<rect x="380" y="560" width="3" height="3"/>
<rect x="386" y="560" width="3" height="3"/>
<rect x="392" y="560" width="3" height="3"/>
<rect x="398" y="560" width="3" height="3"/>
<rect x="404" y="560" width="3" height="3"/>
<rect x="410" y="560" width="3" height="3"/>
<rect x="416" y="560" width="3" height="3"/>
<rect x="422" y="560" width="3" height="3"/>
<rect x="428" y="560" width="3" height="3"/>
<rect x="434" y="560" width="3" height="3"/>
<rect x="440" y="560" width="3" height="3"/>
<rect x="446" y="560" width="3" height="3"/>
<rect x="452" y="560" width="3" height="3"/>
<rect x="458" y="560" width="3" height="3"/>
<rect x="464" y="560" width="3" height="3"/>
<rect x="470" y="560" width="3" height="3"/>
<rect x="476" y="560" width="3" height="3"/>
<rect x="482" y="560" width="3" height="3"/>
<rect x="488" y="560" width="3" height="3"/>
<rect x="494" y="560" width="3" height="3"/>
<rect x="500" y="560" width="3" height="3"/>
<rect x="506" y="560" width="3" height="3"/>
<rect x="512" y="560" width="3" height="3"/>
<rect x="518" y="560" width="3" height="3"/>
<rect x="524" y="560" width="3" height="3"/>
<rect x="530" y="560" width="3" height="3"/>
<rect x="536" y="560" width="3" height="3"/>
<rect x="542" y="560" width="3" height="3"/>
<rect x="548" y="560" width="3" height="3"/>
<rect x="554" y="560" width="3" height="3"/>
<rect x="560" y="560" width="3" height="3"/>
<rect x="566" y="560" width="3" height="3"/>
<rect x="572" y="560" width="3" height="3"/>
<rect x="578" y="560" width="3" height="3"/>
<rect x="584" y="560" width="3" height="3"/>
<rect x="590" y="560" width="3" height="3"/>
<rect x="596" y="560" width="3" height="3"/>
<rect x="602" y="560" width="3" height="3"/>
<rect x="608" y="560" width="3" height="3"/>
<rect x="614" y="560" width="3" height="3"/>
<rect x="620" y="560" width="3" height="3"/>
<rect x="626" y="560" width="3" height="3"/>
<rect x="632" y="560" width="3" height="3"/>
<rect x="638" y="560" width="3" height="3"/>
<rect x="644" y="560" width="3" height="3"/>
<rect x="650" y="560" width="3" height="3"/>
<rect x="656" y="560" width="3" height="3"/>
<rect x="662" y="560" width="3" height="3"/>
<rect x="668" y="560" width="3" height="3"/>
<rect x="674" y="560" width="3" height="3"/>
<rect x="680" y="560" width="3" height="3"/>
<rect x="686" y="560" width="3" height="3"/>
<rect x="692" y="560" width="3" height="3"/>
<rect x="698" y="560" width="3" height="3"/>
<rect x="704" y="560" width="3" height="3"/>
<rect x="710" y="560" width="3" height="3"/>
<rect x="716" y="560" width="3" height="3"/>
<rect x="722" y="560" width="3" height="3"/>
<rect x="728" y="560" width="3" height="3"/>
<rect x="734" y="560" width="3" height="3"/>
<rect x="740" y="560" width="3" height="3"/>
<rect x="746" y="560" width="3" height="3"/>
<rect x="752" y="560" width="3" height="3"/>
<rect x="758" y="560" width="3" height="3"/>
<rect x="764" y="560" width="3" height="3"/>
<rect x="770" y="560" width="3" height="3"/>
<rect x="776" y="560" width="3" height="3"/>
<rect x="782" y="560" width="3" height="3"/>
<rect x="788" y="560" width="3" height="3"/>
<rect x="794" y="560" width="3" height="3"/>
<rect x="800" y="560" width="3" height="3"/>
<rect x="806" y="560" width="3" height="3"/>
<rect x="812" y="560" width="3" height="3"/>
<rect x="818" y="560" width="3" height="3"/>
<rect x="824" y="560" width="3" height="3"/>
<rect x="830" y="560" width="3" height="3"/>
<rect x="836" y="560" width="3" height="3"/>
<rect x="842" y="560" width="3" height="3"/>
<rect x="75" y="495" width="6" height="3"/>
<rect x="84" y="495" width="17" height="3"/>
<rect x="104" y="495" width="9" height="3"/>
<rect x="116" y="495" width="9" height="3"/>
<rect x="128" y="495" width="9" height="3"/>
<rect x="140" y="495" width="9" height="3"/>
<rect x="152" y="495" width="9" height="3"/>
<rect x="164" y="495" width="9" height="3"/>
<rect x="176" y="495" width="9" height="3"/>
<rect x="188" y="495" width="9" height="3"/>
<rect x="200" y="495" width="9" height="3"/>
<rect x="212" y="495" width="9" height="3"/>
<rect x="224" y="495" width="9" height="3"/>
<rect x="236" y="495" width="9" height="3"/>
<rect x="248" y="495" width="9" height="3"/>
<rect x="260" y="495" width="9" height="3"/>
<rect x="272" y="495" width="9" height="3"/>
<rect x="284" y="495" width="9" height="3"/>
<rect x="296" y="495" width="9" height="3"/>
<rect x="308" y="495" width="9" height="3"/>
<rect x="320" y="495" width="9" height="3"/>
<rect x="332" y="495" width="9" height="3"/>
<rect x="344" y="495" width="9" height="3"/>
<rect x="356" y="495" width="9" height="3"/>
<rect x="368" y="495" width="9" height="3"/>
<rect x="380" y="495" width="9" height="3"/>
<rect x="392" y="495" width="9" height="3"/>
<rect x="404" y="495" width="9" height="3"/>
<rect x="416" y="495" width="9" height="3"/>
<rect x="428" y="495" width="9" height="3"/>
<rect x="440" y="495" width="9" height="3"/>
<rect x="452" y="495" width="9" height="3"/>
<rect x="464" y="495" width="9" height="3"/>
<rect x="476" y="495" width="9" height="3"/>
<rect x="488" y="495" width="9" height="3"/>
<rect x="500" y="495" width="9" height="3"/>
<rect x="512" y="495" width="9" height="3"/>
<rect x="524" y="495" width="9" height="3"/>
<rect x="536" y="495" width="9" height="3"/>
<rect x="548" y="495" width="9" height="3"/>
<rect x="560" y="495" width="9" height="3"/>
<rect x="572" y="495" width="9" height="3"/>
<rect x="584" y="495" width="9" height="3"/>
<rect x="596" y="495" width="9" height="3"/>
<rect x="608" y="495" width="9" height="3"/>
<rect x="620" y="495" width="9" height="3"/>
<rect x="632" y="495" width="9" height="3"/>
<rect x="644" y="495" width="9" height="3"/>
<rect x="656" y="495" width="9" height="3"/>
<rect x="668" y="495" width="9" height="3"/>
<rect x="680" y="495" width="9" height="3"/>
<rect x="692" y="495" width="9" height="3"/>
<rect x="704" y="495" width="9" height="3"/>
<rect x="716" y="495" width="9" height="3"/>
<rect x="728" y="495" width="9" height="3"/>
<rect x="740" y="495" width="9" height="3"/>
<rect x="752" y="495" width="9" height="3"/>
<rect x="764" y="495" width="9" height="3"/>
<rect x="776" y="495" width="9" height="3"/>
<rect x="788" y="495" width="9" height="3"/>
<rect x="800" y="495" width="9" height="3"/>
<rect x="812" y="495" width="9" height="3"/>
<rect x="824" y="495" width="9" height="3"/>
<rect x="836" y="495" width="9" height="3"/>
</g>
<circle cx="86.5" cy="208.75" r="4.95" fill="#0000ff"/>
<circle cx="102.5" cy="140.75" r="4.95" fill="#0000ff"/>
<circle cx="116.5" cy="160.75" r="4.95" fill="#0000ff"/>
<circle cx="132.75" cy="193" r="4.95" fill="#0000ff"/>
<circle cx="146.5" cy="230.75" r="4.95" fill="#0000ff"/>
<circle cx="162.5" cy="151" r="4.95" fill="#0000ff"/>
<circle cx="176.5" cy="160.75" r="4.95" fill="#0000ff"/>
<circle cx="192.25" cy="212.75" r="4.95" fill="#0000ff"/>
<circle cx="206.25" cy="230.75" r="4.95" fill="#0000ff"/>
<circle cx="220.5" cy="204.5" r="4.95" fill="#0000ff"/>
<circle cx="236.25" cy="210.75" r="4.95" fill="#0000ff"/>
<circle cx="250.5" cy="172.75" r="4.95" fill="#0000ff"/>
<circle cx="266.5" cy="212.75" r="4.95" fill="#0000ff"/>
<circle cx="282.5" cy="160.5" r="4.95" fill="#0000ff"/>
<circle cx="296.5" cy="207" r="4.95" fill="#0000ff"/>
<circle cx="312.5" cy="145" r="4.95" fill="#0000ff"/>
<circle cx="326.5" cy="138.75" r="4.95" fill="#0000ff"/>
<circle cx="340.5" cy="196.75" r="4.95" fill="#0000ff"/>
<circle cx="356.5" cy="196.75" r="4.95" fill="#0000ff"/>
<circle cx="370.5" cy="227" r="4.95" fill="#0000ff"/>
<circle cx="386.5" cy="227" r="4.95" fill="#0000ff"/>
<circle cx="400.5" cy="185" r="4.95" fill="#0000ff"/>
<circle cx="416.5" cy="230.75" r="4.95" fill="#0000ff"/>
<circle cx="430.5" cy="160.75" r="4.95" fill="#0000ff"/>
<circle cx="446.5" cy="223" r="4.95" fill="#0000ff"/>
<circle cx="460.5" cy="137" r="4.95" fill="#0000ff"/>
<circle cx="476.5" cy="91" r="4.95" fill="#0000ff"/>
<circle cx="490.5" cy="185" r="4.95" fill="#0000ff"/>
<circle cx="506.5" cy="175" r="4.95" fill="#0000ff"/>
<circle cx="522.5" cy="182.75" r="4.95" fill="#0000ff"/>
<circle cx="536.5" cy="186.75" r="4.95" fill="#0000ff"/>
<circle cx="552.5" cy="227" r="4.95" fill="#0000ff"/>
<circle cx="566.5" cy="130.75" r="4.95" fill="#0000ff"/>
<circle cx="580.5" cy="186.75" r="4.95" fill="#0000ff"/>
<circle cx="596.5" cy="173" r="4.95" fill="#0000ff"/>
<circle cx="610.5" cy="167" r="4.95" fill="#0000ff"/>
<circle cx="626.5" cy="124.75" r="4.95" fill="#0000ff"/>
<circle cx="640.5" cy="182.75" r="4.95" fill="#0000ff"/>
<circle cx="656.5" cy="210.75" r="4.95" fill="#0000ff"/>
<circle cx="670.5" cy="186.75" r="4.95" fill="#0000ff"/>
<circle cx="686.5" cy="237" r="4.95" fill="#0000ff"/>
<circle cx="700.5" cy="140.75" r="4.95" fill="#0000ff"/>
<circle cx="716.5" cy="151" r="4.95" fill="#0000ff"/>
<circle cx="730.5" cy="124.75" r="4.95" fill="#0000ff"/>
<circle cx="746.5" cy="179" r="4.95" fill="#0000ff"/>
<circle cx="760.5" cy="148.75" r="4.95" fill="#0000ff"/>
<circle cx="776.5" cy="219" r="4.95" fill="#0000ff"/>
<circle cx="790.5" cy="153" r="4.95" fill="#0000ff"/>
<circle cx="806.5" cy="179" r="4.95" fill="#0000ff"/>
<circle cx="820.5" cy="190.75" r="4.95" fill="#0000ff"/>
<circle cx="836.5" cy="219" r="4.95" fill="#0000ff"/>
<circle cx="102.5" cy="451" r="4.95" fill="#0000ff"/>
<circle cx="116.5" cy="527" r="4.95" fill="#0000ff"/>
<circle cx="132.75" cy="510.75" r="4.95" fill="#0000ff"/>
<circle cx="146.5" cy="496.75" r="4.95" fill="#0000ff"/>
<circle cx="162.5" cy="429" r="4.95" fill="#0000ff"/>
<circle cx="176.5" cy="544.75" r="4.95" fill="#0000ff"/>
<circle cx="192.25" cy="474.75" r="4.95" fill="#0000ff"/>
<circle cx="206.25" cy="530.75" r="4.95" fill="#0000ff"/>
<circle cx="220.5" cy="518.75" r="4.95" fill="#0000ff"/>
<circle cx="236.25" cy="552.75" r="4.95" fill="#0000ff"/>
<circle cx="250.5" cy="499" r="4.95" fill="#0000ff"/>
<circle cx="266.5" cy="496.75" r="4.95" fill="#0000ff"/>
<circle cx="282.5" cy="476.75" r="4.95" fill="#0000ff"/>
<circle cx="296.5" cy="487" r="4.95" fill="#0000ff"/>
<circle cx="312.5" cy="458.75" r="4.95" fill="#0000ff"/>
<circle cx="326.5" cy="555" r="4.95" fill="#0000ff"/>
<circle cx="340.5" cy="468.75" r="4.95" fill="#0000ff"/>
<circle cx="356.5" cy="561.5" r="4.95" fill="#0000ff"/>
<circle cx="370.5" cy="510.5" r="4.95" fill="#0000ff"/>
<circle cx="386.5" cy="561.5" r="4.95" fill="#0000ff"/>
<circle cx="400.5" cy="493" r="4.95" fill="#0000ff"/>
<circle cx="416.5" cy="485" r="4.95" fill="#0000ff"/>
<circle cx="430.5" cy="444.75" r="4.95" fill="#0000ff"/>
<circle cx="446.5" cy="460.75" r="4.95" fill="#0000ff"/>
<circle cx="460.5" cy="422.75" r="4.95" fill="#0000ff"/>
<circle cx="476.5" cy="485" r="4.95" fill="#0000ff"/>
<circle cx="490.5" cy="406.75" r="4.95" fill="#0000ff"/>
<circle cx="506.5" cy="544.5" r="4.95" fill="#0000ff"/>
<circle cx="522.5" cy="548.5" r="4.95" fill="#0000ff"/>
<circle cx="536.5" cy="554.6" r="4.95" fill="#0000ff"/>
<circle cx="552.5" cy="494.7" r="4.95" fill="#0000ff"/>
<circle cx="566.5" cy="406.7" r="4.95" fill="#0000ff"/>
<circle cx="580.5" cy="470.6" r="4.95" fill="#0000ff"/>
<circle cx="596.5" cy="539" r="4.95" fill="#0000ff"/>
<circle cx="610.5" cy="552.5" r="4.95" fill="#0000ff"/>
<circle cx="626.5" cy="488.6" r="4.95" fill="#0000ff"/>
<circle cx="640.5" cy="464.8" r="4.95" fill="#0000ff"/>
<circle cx="656.5" cy="514.6" r="4.95" fill="#0000ff"/>
<circle cx="670.5" cy="520.7" r="4.95" fill="#0000ff"/>
<circle cx="686.5" cy="480.7" r="4.95" fill="#0000ff"/>
<circle cx="700.5" cy="404.6" r="4.95" fill="#0000ff"/>
<circle cx="716.5" cy="542.7" r="4.95" fill="#0000ff"/>
<circle cx="730.5" cy="516.7" r="4.95" fill="#0000ff"/>
<circle cx="746.5" cy="472.7" r="4.95" fill="#0000ff"/>
<circle cx="760.5" cy="512.7" r="4.95" fill="#0000ff"/>
<circle cx="776.5" cy="446.7" r="4.95" fill="#0000ff"/>
<circle cx="790.5" cy="454.7" r="4.95" fill="#0000ff"/>
<circle cx="806.5" cy="520.7" r="4.95" fill="#0000ff"/>
<circle cx="820.5" cy="542.7" r="4.95" fill="#0000ff"/>
<circle cx="836.5" cy="514.6" r="4.95" fill="#0000ff"/>
<g>
<text x="360.21" y="20.80" font-size="22" font-weight="bold" textLength="204.19" lengthAdjust="spacingAndGlyphs">NP-7A Batch Analysis</text>
<text x="312.00" y="44.80" font-size="22" font-weight="bold" textLength="299.29" lengthAdjust="spacingAndGlyphs">Viscosity, CPS (#4 Spin/20 rpm)</text>
<text x="854.91" y="47.90" font-size="16" textLength="52.66" lengthAdjust="spacingAndGlyphs">Individ.</text>
<text x="854.70" y="321.00" font-size="16" textLength="47.05" lengthAdjust="spacingAndGlyphs">Range</text>
<text x="855.34" y="82.60" font-size="16" textLength="21.74" lengthAdjust="spacingAndGlyphs">ucl</text>
<text x="855.14" y="188.60" font-size="16" textLength="12.29" lengthAdjust="spacingAndGlyphs">cl</text>
<text x="854.94" y="292.70" font-size="16" textLength="16.06" lengthAdjust="spacingAndGlyphs">lcl</text>
<text x="855.34" y="354.60" font-size="16" textLength="21.74" lengthAdjust="spacingAndGlyphs">ucl</text>
<text x="854.94" y="502.60" font-size="16" textLength="12.29" lengthAdjust="spacingAndGlyphs">cl</text>
<text x="854.94" y="566.70" font-size="16" textLength="16.06" lengthAdjust="spacingAndGlyphs">lcl</text>
<text x="32.68" y="87.10" font-size="16" textLength="35.42" lengthAdjust="spacingAndGlyphs">1500</text>
<text x="32.68" y="128.40" font-size="16" textLength="35.42" lengthAdjust="spacingAndGlyphs">1400</text>
<text x="32.68" y="168.90" font-size="16" textLength="35.42" lengthAdjust="spacingAndGlyphs">1300</text>
<text x="32.68" y="209.10" font-size="16" textLength="35.42" lengthAdjust="spacingAndGlyphs">1200</text>
<text x="33.67" y="248.90" font-size="16" textLength="34.23" lengthAdjust="spacingAndGlyphs">1100</text>
<text x="32.68" y="288.60" font-size="16" textLength="35.42" lengthAdjust="spacingAndGlyphs">1000</text>
<text x="41.63" y="337.10" font-size="16" textLength="26.57" lengthAdjust="spacingAndGlyphs">350</text>
<text x="41.63" y="368.70" font-size="16" textLength="26.57" lengthAdjust="spacingAndGlyphs">300</text>
<text x="41.63" y="403.00" font-size="16" textLength="26.57" lengthAdjust="spacingAndGlyphs">250</text>
<text x="41.63" y="434.90" font-size="16" textLength="26.57" lengthAdjust="spacingAndGlyphs">200</text>
<text x="41.63" y="468.50" font-size="16" textLength="26.57" lengthAdjust="spacingAndGlyphs">150</text>
<text x="41.63" y="500.95" font-size="16" textLength="26.57" lengthAdjust="spacingAndGlyphs">100</text>
<text x="50.59" y="534.80" font-size="16" textLength="17.71" lengthAdjust="spacingAndGlyphs">50</text>
<text x="59.54" y="566.70" font-size="16" textLength="8.86" lengthAdjust="spacingAndGlyphs">0</text>
<text x="82.05" y="602.80" font-size="15" textLength="23.88" lengthAdjust="spacingAndGlyphs">785</text>
<text x="127.35" y="602.80" font-size="15" textLength="23.88" lengthAdjust="spacingAndGlyphs">788</text>
<text x="172.35" y="602.80" font-size="15" textLength="23.88" lengthAdjust="spacingAndGlyphs">791</text>
<text x="217.35" y="602.80" font-size="15" textLength="23.88" lengthAdjust="spacingAndGlyphs">794</text>
<text x="262.35" y="602.80" font-size="15" textLength="23.88" lengthAdjust="spacingAndGlyphs">797</text>
<text x="307.35" y="602.80" font-size="15" textLength="23.88" lengthAdjust="spacingAndGlyphs">800</text>
<text x="352.35" y="602.80" font-size="15" textLength="23.88" lengthAdjust="spacingAndGlyphs">803</text>
<text x="397.35" y="602.80" font-size="15" textLength="23.88" lengthAdjust="spacingAndGlyphs">806</text>
<text x="442.35" y="602.80" font-size="15" textLength="23.88" lengthAdjust="spacingAndGlyphs">809</text>
<text x="487.35" y="602.80" font-size="15" textLength="23.88" lengthAdjust="spacingAndGlyphs">812</text>
<text x="532.35" y="602.80" font-size="15" textLength="23.88" lengthAdjust="spacingAndGlyphs">815</text>
<text x="577.35" y="602.80" font-size="15" textLength="23.88" lengthAdjust="spacingAndGlyphs">818</text>
<text x="622.35" y="602.80" font-size="15" textLength="23.88" lengthAdjust="spacingAndGlyphs">821</text>
<text x="667.35" y="602.80" font-size="15" textLength="23.88" lengthAdjust="spacingAndGlyphs">824</text>
<text x="712.35" y="602.80" font-size="15" textLength="23.88" lengthAdjust="spacingAndGlyphs">827</text>
<text x="757.35" y="602.80" font-size="15" textLength="23.88" lengthAdjust="spacingAndGlyphs">830</text>
<text x="802.35" y="602.80" font-size="15" textLength="23.88" lengthAdjust="spacingAndGlyphs">833</text>
<text x="3.74" y="603.00" font-size="15" textLength="53.25" lengthAdjust="spacingAndGlyphs">BATCH:</text>
<text x="5.16" y="628.80" font-size="15" textLength="63.81" lengthAdjust="spacingAndGlyphs">Individual:</text>
<text x="5.42" y="645.50" font-size="15" textLength="47.64" lengthAdjust="spacingAndGlyphs">Range:</text>
<text x="81.38" y="628.80" font-size="15" textLength="15.93" lengthAdjust="spacingAndGlyphs">cl:</text>
<text x="81.38" y="645.50" font-size="15" textLength="15.93" lengthAdjust="spacingAndGlyphs">cl:</text>
<text x="110.58" y="628.80" font-size="15" textLength="42.03" lengthAdjust="spacingAndGlyphs">1252.1</text>
<text x="109.53" y="645.50" font-size="15" textLength="36.56" lengthAdjust="spacingAndGlyphs">98.04</text>
<text x="166.38" y="628.80" font-size="15" textLength="23.79" lengthAdjust="spacingAndGlyphs">ucl:</text>
<text x="166.38" y="645.50" font-size="15" textLength="23.79" lengthAdjust="spacingAndGlyphs">ucl:</text>
<text x="203.44" y="628.80" font-size="15" textLength="44.01" lengthAdjust="spacingAndGlyphs">1512.8</text>
<text x="202.42" y="645.50" font-size="15" textLength="45.06" lengthAdjust="spacingAndGlyphs">320.25</text>
<text x="259.36" y="628.80" font-size="15" textLength="19.15" lengthAdjust="spacingAndGlyphs">lcl:</text>
<text x="259.36" y="645.50" font-size="15" textLength="19.15" lengthAdjust="spacingAndGlyphs">lcl:</text>
<text x="290.42" y="628.80" font-size="15" textLength="44.74" lengthAdjust="spacingAndGlyphs">991.48</text>
<text x="290.40" y="645.50" font-size="15" textLength="8.34" lengthAdjust="spacingAndGlyphs">0</text>
<text x="811.15" y="645.60" font-size="15" textLength="87.78" lengthAdjust="spacingAndGlyphs">Rule Violation</text>
</g>
<path d="M791.4,634.6 L794.0,637.2 L791.4,639.8000000000001 L788.8,637.2 Z M787.6,638.3 L790.2,640.9 L787.6,643.5 L785.0,640.9 Z M795.2,638.3 L797.8000000000001,640.9 L795.2,643.5 L792.6,640.9 Z M791.4,641.9 L794.0,644.5 L791.4,647.1 L788.8,644.5 Z" fill="#ff7f00"/>
</svg></body></html>
